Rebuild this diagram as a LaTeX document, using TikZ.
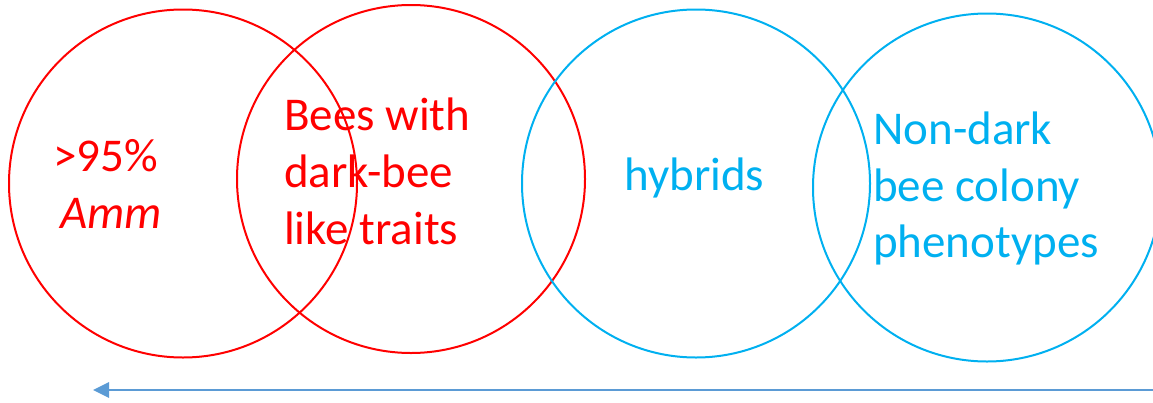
\documentclass[tikz,border=0pt]{standalone}
\usepackage{fontspec}
\setmainfont{Carlito}
\usetikzlibrary{arrows.meta}
\definecolor{cred}{HTML}{FF0000}
\definecolor{cblue}{HTML}{00B0F0}
\definecolor{carrow}{HTML}{5B9BD5}
\tikzset{
  ring/.style={circle, draw=#1, line width=2pt, minimum size=348pt, inner sep=0pt},
  lbl/.style={anchor=base west, inner sep=0pt, text=#1, font=\fontsize{47}{57}\selectfont},
}
\begin{document}
\begin{tikzpicture}[x=1pt, y=-1pt]
\useasboundingbox (0,0) rectangle (1153,402);
\node[ring=cred] (c1) at (183,183.5) {};
\node[ring=cred] (c2) at (411,179) {};
\node[ring=cblue] (c3) at (696,183.5) {};
\node[ring=cblue] (c4) at (987,187.5) {};
\node[lbl=cred] (t1a) at (53,171) {>95\%};
\node[lbl=cred] (t1b) at (60,228) {\itshape Amm};
\node[lbl=cred] (t2a) at (284,130) {Bees with};
\node[lbl=cred] (t2b) at (284,187) {dark-bee};
\node[lbl=cred] (t2c) at (284,244) {like traits};
\node[lbl=cblue] (t3) at (624,190) {hybrids};
\node[lbl=cblue] (t4a) at (873,144) {Non-dark};
\node[lbl=cblue] (t4b) at (873,201) {bee colony};
\node[lbl=cblue] (t4c) at (873,257) {phenotypes};
\coordinate (astart) at (1153,390);
\coordinate (aend) at (93,390);
\draw[carrow, line width=2.8pt, -{Triangle[length=16pt, width=15pt]}] (astart) -- (aend);
\end{tikzpicture}
\end{document}
